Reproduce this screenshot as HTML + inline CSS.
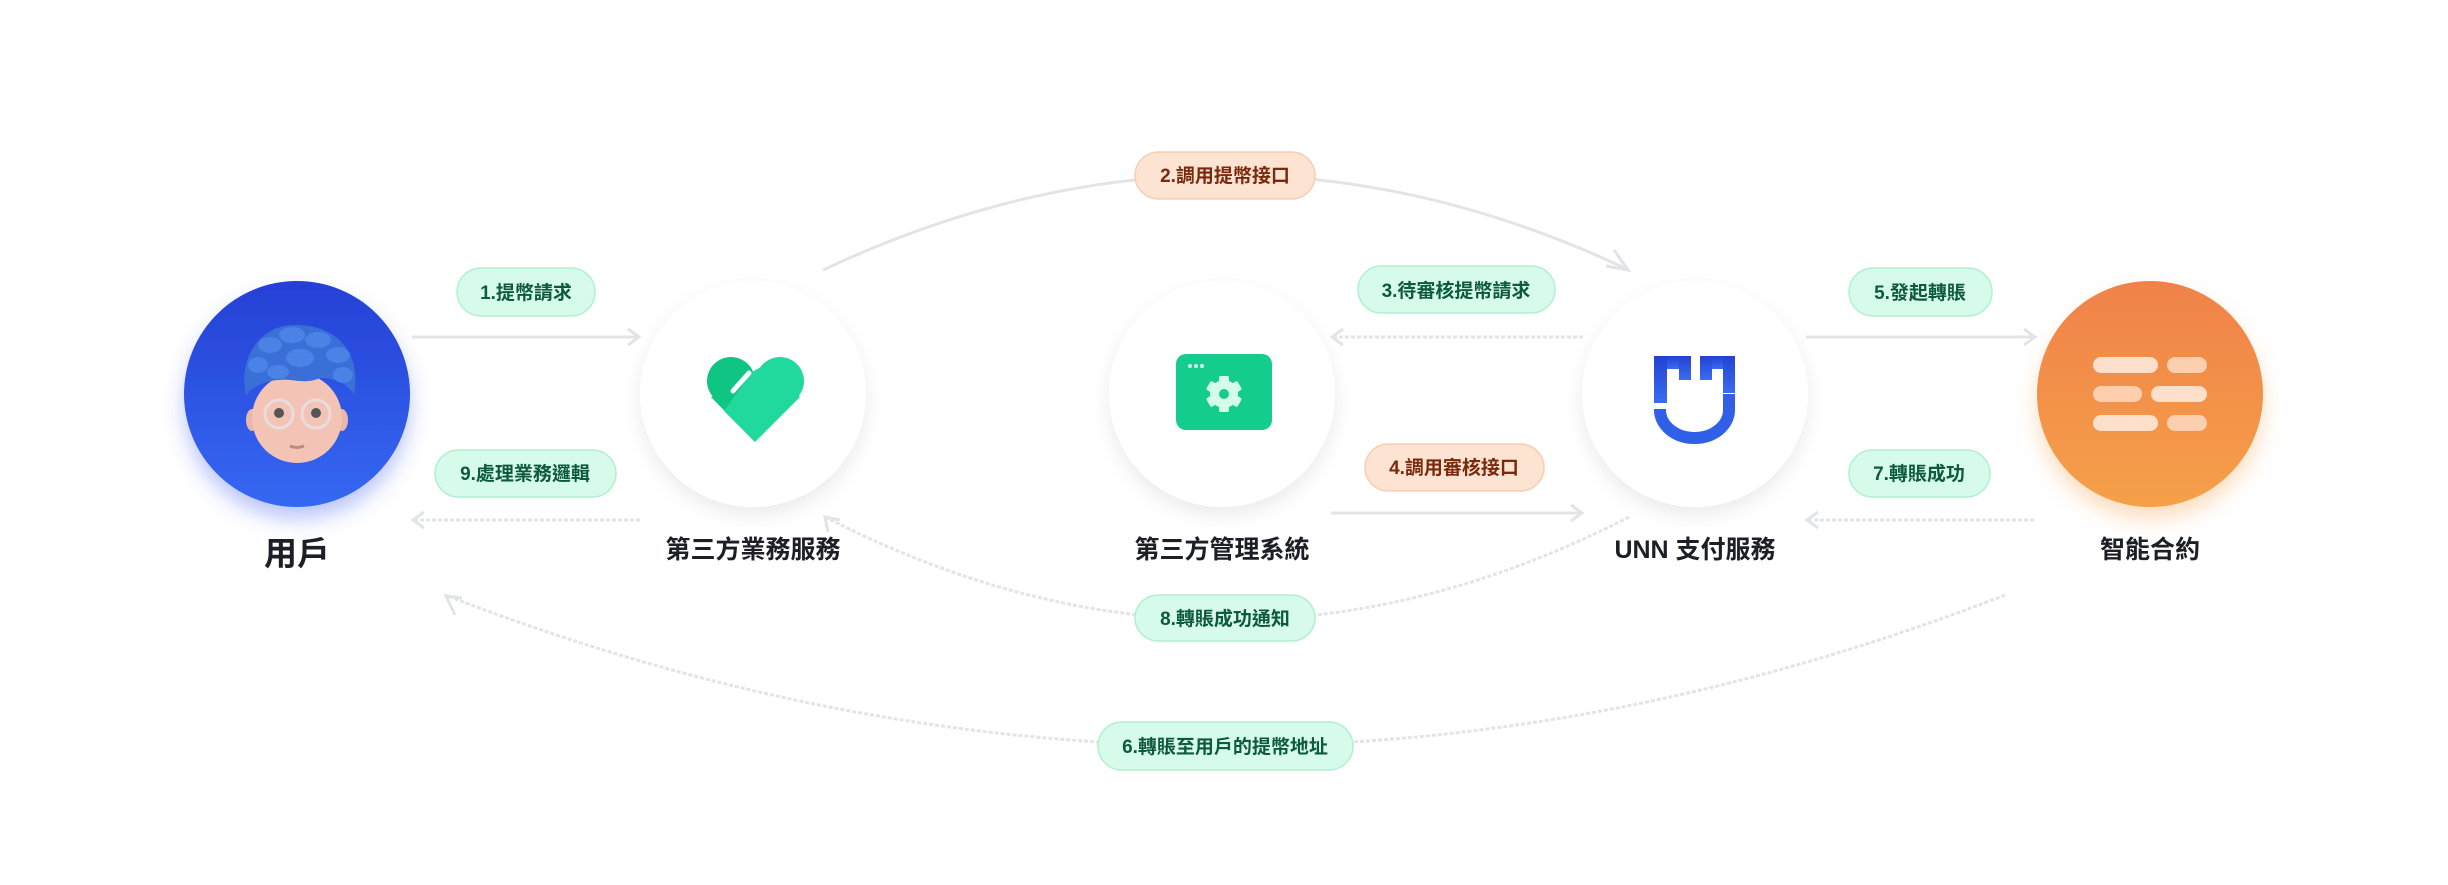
<!DOCTYPE html>
<html><head><meta charset="utf-8">
<style>
html,body{margin:0;padding:0;background:#fff;}
body{width:2448px;height:880px;overflow:hidden;font-family:"Liberation Sans","Noto Sans CJK TC",sans-serif;}
</style></head><body>
<svg width="2448" height="880" viewBox="0 0 2448 880" xmlns="http://www.w3.org/2000/svg" font-family="Liberation Sans, Noto Sans CJK TC, sans-serif">
<defs>
<linearGradient id="gb" x1="0" y1="0" x2="0" y2="1"><stop offset="0" stop-color="#2540d6"/><stop offset="1" stop-color="#3568f2"/></linearGradient>
<linearGradient id="go" x1="0" y1="0" x2="0" y2="1"><stop offset="0" stop-color="#f0824a"/><stop offset="1" stop-color="#f5a048"/></linearGradient>
<linearGradient id="gu" x1="0" y1="0" x2="0" y2="1"><stop offset="0" stop-color="#2441d4"/><stop offset="1" stop-color="#3a6cf0"/></linearGradient>
<filter id="sh" x="-30%" y="-30%" width="160%" height="160%"><feDropShadow dx="0" dy="8" stdDeviation="9" flood-color="#000" flood-opacity="0.08"/></filter>
<filter id="shb" x="-30%" y="-30%" width="160%" height="160%"><feDropShadow dx="0" dy="12" stdDeviation="10" flood-color="#3c5cf0" flood-opacity="0.35"/></filter>
<filter id="sho" x="-30%" y="-30%" width="160%" height="160%"><feDropShadow dx="0" dy="12" stdDeviation="10" flood-color="#f5a048" flood-opacity="0.35"/></filter>
</defs>

<g fill="none" stroke="#e3e4e8" stroke-width="3">
<line x1="412" y1="337" x2="638" y2="337"/>
<polyline points="628,329 639,337 628,345"/>
<line x1="1331" y1="513" x2="1581" y2="513"/>
<polyline points="1571,505 1582,513 1571,521"/>
<line x1="1806" y1="337" x2="2034" y2="337"/>
<polyline points="2024,329 2035,337 2024,345"/>
<path d="M823,270 Q1227,80 1629,270"/>
<polyline points="1614,250 1628,270 1606,266"/>
</g>
<g fill="none" stroke="#e3e4e8" stroke-width="3" stroke-dasharray="4,2">
<line x1="414" y1="520" x2="640" y2="520"/>
<line x1="1333" y1="337" x2="1583" y2="337"/>
<line x1="1808" y1="520" x2="2036" y2="520"/>
<path d="M1629,517 Q1227,723 825,517"/>
<path d="M2005,595 Q1227,897 445,595"/>
</g>
<g fill="none" stroke="#e3e4e8" stroke-width="3">
<polyline points="424,512 413,520 424,528"/>
<polyline points="1343,329 1332,337 1343,345"/>
<polyline points="1818,512 1807,520 1818,528"/>
<polyline points="828,532 825,517 840,520"/>
<polyline points="455,615 446,596 462,598"/>
</g>

<circle cx="297" cy="394" r="113" fill="url(#gb)" filter="url(#shb)"/>
<circle cx="753" cy="394" r="113" fill="#fff" filter="url(#sh)"/>
<circle cx="1222" cy="394" r="113" fill="#fff" filter="url(#sh)"/>
<circle cx="1695" cy="394" r="113" fill="#fff" filter="url(#sh)"/>
<circle cx="2150" cy="394" r="113" fill="url(#go)" filter="url(#sho)"/>

<g>
<ellipse cx="252" cy="420" rx="6" ry="11" fill="#eab8a8"/>
<ellipse cx="342" cy="420" rx="6" ry="11" fill="#eab8a8"/>
<ellipse cx="297" cy="418" rx="45" ry="45" fill="#f3c4b6"/>
<path d="M246,395 C238,360 258,325 295,325 C335,325 362,350 354,395 C345,380 330,378 320,378 C305,385 290,378 280,380 C268,380 255,385 246,395Z" fill="#3a6fd8"/>
<g fill="#4a82e6">
<ellipse cx="270" cy="345" rx="12" ry="8"/><ellipse cx="292" cy="335" rx="13" ry="8"/><ellipse cx="318" cy="340" rx="13" ry="8"/><ellipse cx="338" cy="355" rx="12" ry="8"/><ellipse cx="258" cy="365" rx="10" ry="8"/><ellipse cx="300" cy="358" rx="14" ry="9"/><ellipse cx="343" cy="375" rx="10" ry="8"/><ellipse cx="278" cy="372" rx="11" ry="7"/>
</g>
<circle cx="279" cy="414" r="14" fill="none" stroke="#e8dcdc" stroke-width="3"/>
<circle cx="316" cy="414" r="14" fill="none" stroke="#e8dcdc" stroke-width="3"/>
<circle cx="279" cy="413" r="5" fill="#555"/><circle cx="316" cy="413" r="5" fill="#555"/>
<path d="M290,446 Q297,449 304,446" stroke="#c08a80" stroke-width="3" fill="none"/>
</g>

<g>
<circle cx="731" cy="381" r="24" fill="#0ec584"/>
<polygon points="755,442 711,397 720,392 742,410" fill="#0ec584"/>
<circle cx="780" cy="381" r="24" fill="#21d99c"/>
<polygon points="755,442 724,411 752,372 770,362 800,397" fill="#21d99c"/>
<line x1="749" y1="373" x2="733" y2="391" stroke="#fff" stroke-width="5" stroke-linecap="round"/>
</g>

<rect x="1176" y="354" width="96" height="76" rx="10" fill="#14cd8d"/>
<circle cx="1190" cy="366" r="2" fill="#d5fbe9"/><circle cx="1196" cy="366" r="2" fill="#d5fbe9"/><circle cx="1202" cy="366" r="2" fill="#d5fbe9"/>
<g transform="translate(1224,394)">
<circle r="14" fill="#d5fbe9"/>
<g fill="#d5fbe9"><rect x="-5" y="-18" width="10" height="36" rx="2"/><rect x="-5" y="-18" width="10" height="36" rx="2" transform="rotate(60)"/><rect x="-5" y="-18" width="10" height="36" rx="2" transform="rotate(120)"/></g>
<circle r="5" fill="#14cd8d"/>
</g>

<g fill="url(#gu)">
<rect x="1654" y="356" width="37" height="13"/>
<rect x="1654" y="356" width="13" height="47"/>
<rect x="1679" y="356" width="12" height="24"/>
<rect x="1700" y="356" width="35" height="13"/>
<rect x="1700" y="356" width="12" height="24"/>
<rect x="1723" y="356" width="12" height="37"/>
</g>
<path d="M1660,409 L1660,410 A34.5,28 0 0 0 1729,410 L1729,394" fill="none" stroke="#3060e8" stroke-width="12"/>

<g fill="#fde0cc">
<rect x="2093" y="357" width="65" height="16" rx="8"/><rect x="2167" y="357" width="40" height="16" rx="8" fill="#fdcfae"/>
<rect x="2093" y="386" width="49" height="16" rx="8" fill="#fdcfae"/><rect x="2151" y="386" width="56" height="16" rx="8"/>
<rect x="2093" y="415" width="65" height="16" rx="8"/><rect x="2167" y="415" width="40" height="16" rx="8" fill="#fdcfae"/>
</g>

<g fill="#1d1f26" font-weight="bold" text-anchor="middle">
<text x="297" y="565" font-size="33">用戶</text>
<text x="753" y="558" font-size="25">第三方業務服務</text>
<text x="1222" y="558" font-size="25">第三方管理系統</text>
<text x="1695" y="558" font-size="25">UNN 支付服務</text>
<text x="2150" y="558" font-size="25">智能合約</text>
</g>

<g stroke-width="1.5" font-size="19" text-anchor="middle">
<g fill="#d6fbea" stroke="#b0f0d0">
<rect x="457" y="268" width="138" height="48" rx="24"/>
<rect x="435" y="450" width="181" height="47" rx="23.5"/>
<rect x="1358" y="266" width="197" height="47" rx="23.5"/>
<rect x="1849" y="268" width="143" height="48" rx="24"/>
<rect x="1849" y="450" width="141" height="47" rx="23.5"/>
<rect x="1135" y="595" width="180" height="46" rx="23"/>
<rect x="1098" y="722" width="255" height="48" rx="24"/>
</g>
<g fill="#fde3d2" stroke="#f9cdb0">
<rect x="1135" y="152" width="180" height="47" rx="23.5"/>
<rect x="1365" y="444" width="179" height="47" rx="23.5"/>
</g>
<g fill="#0d5a3c" stroke="none" font-weight="bold">
<text x="526" y="299">1.提幣請求</text>
<text x="525" y="480">9.處理業務邏輯</text>
<text x="1456" y="297">3.待審核提幣請求</text>
<text x="1920" y="299">5.發起轉賬</text>
<text x="1919" y="480">7.轉賬成功</text>
<text x="1225" y="625">8.轉賬成功通知</text>
<text x="1225" y="753">6.轉賬至用戶的提幣地址</text>
</g>
<g fill="#7a2a0c" stroke="none" font-weight="bold">
<text x="1225" y="182">2.調用提幣接口</text>
<text x="1454" y="474">4.調用審核接口</text>
</g>
</g>
</svg>
</body></html>
